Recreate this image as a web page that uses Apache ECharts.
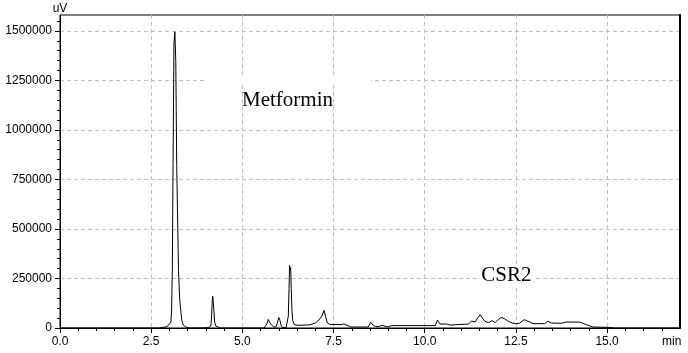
<!DOCTYPE html>
<html>
<head>
<meta charset="utf-8">
<script src="https://cdn.jsdelivr.net/npm/echarts@6/dist/echarts.min.js"></script>
<style>
html,body{margin:0;padding:0;background:#fff;}
#chart{width:688px;height:353px;}
</style>
</head>
<body>
<div id="chart"></div>
<script>
// Retention time (min) and detector signal (uV)
const retentionTimes = [
  0.00, 2.70, 2.80, 2.88, 2.95, 3.00, 3.04, 3.06, 3.08, 3.10, 3.125, 3.15, 3.175, 3.20, 3.23, 3.25, 3.28, 3.31, 3.34, 3.38, 3.45, 3.55,
  4.00, 4.10, 4.14, 4.16, 4.175, 4.19, 4.205, 4.22, 4.24, 4.27, 4.32, 4.40,
  5.60, 5.65, 5.68, 5.71, 5.75, 5.80, 5.86, 5.92, 5.96, 6.00, 6.03, 6.06, 6.10, 6.20,
  6.24, 6.26, 6.28, 6.295, 6.31, 6.325, 6.34, 6.36, 6.38, 6.42, 6.50, 6.65, 6.85,
  7.00, 7.10, 7.18, 7.24, 7.28, 7.33, 7.40, 7.70, 7.78, 7.83, 7.90, 7.97,
  8.45, 8.52, 8.58, 8.65, 8.74, 8.83, 8.97, 9.10,
  10.29, 10.35, 10.42, 10.47, 10.60, 10.70, 11.20, 11.29, 11.38, 11.45, 11.52, 11.58, 11.65, 11.74, 11.85, 11.93,
  12.00, 12.09, 12.18, 12.29, 12.40, 12.50, 12.60, 12.73, 12.80, 12.88, 12.97,
  13.29, 13.38, 13.47, 13.75, 13.88, 14.25, 14.43, 14.61, 15.07, 15.20, 17.00
];
const signal = [
  0, 0, 2000, 5000, 9000, 15000, 30000, 90000, 300000, 830000, 1440000, 1495000, 1345000, 820000, 500000, 290000, 150000, 90000, 40000, 15000, 5000, 0,
  1000, 4000, 15000, 70000, 140000, 160000, 150000, 90000, 30000, 10000, 3000, 0,
  0, 5000, 25000, 43000, 28000, 15000, 6000, 5000, 25000, 53000, 40000, 15000, 3000, 2000,
  10000, 60000, 200000, 316000, 290000, 305000, 200000, 90000, 40000, 18000, 14000, 14000, 16000,
  25000, 40000, 60000, 89000, 60000, 25000, 18000, 17000, 20000, 25000, 12000, 5000,
  5000, 29000, 15000, 8000, 7000, 14000, 5000, 12000,
  12000, 40000, 20000, 14000, 20000, 15000, 20000, 35000, 30000, 50000, 68000, 50000, 34000, 27000, 37000, 27000,
  40000, 53000, 48000, 34000, 25000, 22000, 24000, 42000, 36000, 30000, 22000,
  22000, 34000, 25000, 24000, 30000, 30000, 17000, 5000, 3000, 0, 0
];

// Axis ticks
const yMajorTicks = [0, 250000, 500000, 750000, 1000000, 1250000, 1500000];
const yMinorTicks = [
  0, 50000, 100000, 150000, 200000, 250000, 300000, 350000, 400000, 450000,
  500000, 550000, 600000, 650000, 700000, 750000, 800000, 850000, 900000, 950000,
  1000000, 1050000, 1100000, 1150000, 1200000, 1250000, 1300000, 1350000, 1400000, 1450000,
  1500000, 1550000
];
const xMajorTicks = [0, 2.5, 5, 7.5, 10, 12.5, 15];
const xMinorTicks = [
  0, 0.5, 1, 1.5, 2, 2.5, 3, 3.5, 4, 4.5, 5, 5.5, 6, 6.5, 7, 7.5, 8, 8.5,
  9, 9.5, 10, 10.5, 11, 11.5, 12, 12.5, 13, 13.5, 14, 14.5, 15, 15.5, 16, 16.5
];

const xMax = 17;
const yMax = 1580000;

const chart = echarts.init(document.getElementById('chart'), null, {renderer: 'canvas'});
const labelFont = {fontFamily: '"Liberation Sans", Arial, sans-serif', fontSize: 12, color: '#000'};
const gridLine = {show: true, lineStyle: {color: '#c0c0c0', type: [4, 3], width: 1}};

chart.setOption({
  animation: false,
  backgroundColor: '#fff',
  grid: {left: 60, right: 8, top: 15, bottom: 25, show: true, borderColor: '#000', borderWidth: 1, containLabel: false},
  xAxis: [
    {
      type: 'value', position: 'bottom', min: 0, max: xMax, interval: 2.5,
      name: 'min', nameLocation: 'end', nameGap: -18,
      nameTextStyle: Object.assign({}, labelFont, {align: 'left', verticalAlign: 'top', padding: [8, 0, 0, 0]}),
      axisLine: {show: true, onZero: false, lineStyle: {color: '#000', width: 1}},
      axisTick: {show: true, length: 5, customValues: xMajorTicks, lineStyle: {color: '#000'}},
      axisLabel: Object.assign({}, labelFont, {margin: 8, showMaxLabel: false, formatter: v => v.toFixed(1)}),
      splitLine: gridLine
    },
    {
      type: 'value', position: 'bottom', min: 0, max: xMax,
      axisLine: {show: false, onZero: false},
      axisTick: {show: true, length: 3, customValues: xMinorTicks, lineStyle: {color: '#000'}},
      axisLabel: {show: false},
      splitLine: {show: false}
    }
  ],
  yAxis: [
    {
      type: 'value', position: 'left', min: 0, max: yMax, interval: 250000,
      name: 'uV', nameLocation: 'end', nameGap: 0,
      nameTextStyle: Object.assign({}, labelFont, {align: 'center'}),
      axisLine: {show: true, onZero: false, lineStyle: {color: '#000', width: 1}},
      axisTick: {show: true, length: 5, customValues: yMajorTicks, lineStyle: {color: '#000'}},
      axisLabel: Object.assign({}, labelFont, {margin: 8, showMaxLabel: false, formatter: v => String(v)}),
      splitLine: gridLine
    },
    {
      type: 'value', position: 'left', min: 0, max: yMax,
      axisLine: {show: false, onZero: false},
      axisTick: {show: true, length: 3, customValues: yMinorTicks, lineStyle: {color: '#000'}},
      axisLabel: {show: false},
      splitLine: {show: false}
    },
    {
      type: 'value', position: 'right', min: 0, max: yMax,
      axisLine: {show: true, onZero: false, lineStyle: {color: '#000', width: 2}},
      axisTick: {show: false},
      axisLabel: {show: false},
      splitLine: {show: false}
    }
  ],
  series: [{
    type: 'line',
    xAxisIndex: 0, yAxisIndex: 0,
    data: retentionTimes.map((t, i) => [t, signal[i]]),
    showSymbol: false, symbol: 'none',
    lineStyle: {color: '#000', width: 1},
    z: 3
  }],
  graphic: [
    {type: 'rect', z: 50, shape: {x: 206, y: 78, width: 165, height: 4}, style: {fill: '#fff'}},
    {type: 'text', z: 60, x: 287.5, y: 100,
      style: {text: 'Metformin', font: '21px "Liberation Serif", "Times New Roman", serif', fill: '#000',
        align: 'center', verticalAlign: 'middle', textAlign: 'center', textVerticalAlign: 'middle'}},
    {type: 'text', z: 60, x: 507.3, y: 275.3,
      style: {text: 'CSR2', font: '21px "Liberation Serif", "Times New Roman", serif', fill: '#000',
        align: 'center', verticalAlign: 'middle', textAlign: 'center', textVerticalAlign: 'middle',
        backgroundColor: '#fff', padding: [0, 4, 0, 2]}}
  ]
});
</script>
</body>
</html>
